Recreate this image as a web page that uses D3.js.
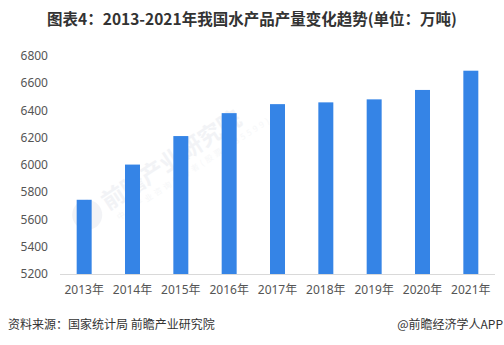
<!DOCTYPE html>
<html><head><meta charset="utf-8">
<script src="https://cdn.jsdelivr.net/npm/d3@7"></script>
<style>
html,body{margin:0;padding:0;background:#fff;}
svg{display:block;font-family:"Microsoft YaHei","Noto Sans CJK SC",sans-serif;}
</style></head>
<body>
<svg id="chart" width="504" height="345"></svg>
<script>
const categories = ["2013年","2014年","2015年","2016年","2017年","2018年","2019年","2020年","2021年"];
const values = [5744, 6002, 6211, 6379, 6445, 6458, 6480, 6549, 6690];
const yTicks = [5200, 5400, 5600, 5800, 6000, 6200, 6400, 6600, 6800];
const titleText = "图表4：2013-2021年我国水产品产量变化趋势(单位：万吨)";
const sourceText = "资料来源：国家统计局 前瞻产业研究院";
const brandText = "@前瞻经济学人APP";

const svg = d3.select("#chart");

const x = d3.scaleBand().domain(categories).range([60, 495]).paddingInner(0.69).paddingOuter(0.345);
const y = d3.scaleLinear().domain([5200, 6800]).range([274, 55.7]);

// title
svg.append("text").attr("x", 252).attr("y", 25).attr("text-anchor", "middle")
  .attr("font-size", 15.5).attr("font-weight", "bold").attr("fill", "#333")
  .text(titleText);

// watermark
const wm = svg.append("g").attr("transform", "translate(104,204) rotate(-33)").attr("opacity", 0.45);
wm.append("circle").attr("cx", -20).attr("cy", 0).attr("r", 15).attr("fill", "#e3e6ec");
wm.append("text").attr("x", 0).attr("y", 8).attr("font-size", 23).attr("font-weight", "bold")
  .attr("fill", "#e3e6ec").text("前瞻产业研究院");
wm.append("text").attr("x", 4).attr("y", 22).attr("font-size", 8)
  .attr("fill", "#eceef2").attr("letter-spacing", 3).text("中国产业咨询领导者(股票:835599)");

// bars
svg.append("g").selectAll("rect").data(values).join("rect")
  .attr("x", (d, i) => x(categories[i]))
  .attr("width", x.bandwidth())
  .attr("y", d => y(d))
  .attr("height", d => y(5200) - y(d))
  .attr("fill", "#3584e6");

// y axis
const yAxis = svg.append("g").attr("transform", "translate(60,0)")
  .call(d3.axisLeft(y).tickValues(yTicks).tickSize(0).tickPadding(12).tickFormat(d3.format("d")));
yAxis.select(".domain").remove();
yAxis.selectAll("text").attr("font-size", 12).attr("fill", "#555")
  .attr("font-family", "'Noto Sans','Microsoft YaHei',sans-serif");

// x axis
const xAxis = svg.append("g").attr("transform", "translate(0,274)")
  .call(d3.axisBottom(x).tickSize(0).tickPadding(11));
xAxis.select(".domain").attr("stroke", "#d9d9d9").attr("d", "M60,0.5H495");
xAxis.selectAll("text").attr("font-size", 12).attr("fill", "#555")
  .attr("font-family", "'Noto Sans','Noto Sans CJK SC',sans-serif");

// footer
svg.append("text").attr("x", 8).attr("y", 329).attr("font-size", 12).attr("fill", "#333")
  .text(sourceText);
svg.append("text").attr("x", 503).attr("y", 329).attr("text-anchor", "end").attr("font-size", 12).attr("fill", "#333")
  .text(brandText);
</script>
</body></html>
